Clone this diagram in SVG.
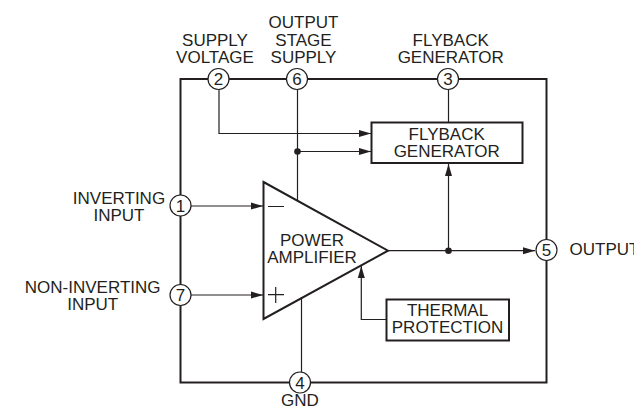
<svg xmlns="http://www.w3.org/2000/svg" width="634" height="409" viewBox="0 0 634 409">
<style>
text{font-family:"Liberation Sans",Arial,sans-serif;font-size:17px;fill:#231f20;text-anchor:middle}
.frame{fill:none;stroke:#231f20;stroke-width:2}
.w{fill:none;stroke:#231f20;stroke-width:1.2}
.box{fill:#fff;stroke:#231f20;stroke-width:2}
.pin{fill:#fff;stroke:#231f20;stroke-width:1.2}
.dot{fill:#231f20}
</style>
<defs><marker id="a" markerUnits="userSpaceOnUse" markerWidth="13" markerHeight="10" refX="12" refY="4" orient="auto"><path d="M0 0.500L12 4L0 7.500Z" fill="#231f20"/></marker></defs>
<g id="connectors">
<rect class="frame" x="180.500" y="79" width="366" height="303.500"/>
<path class="w" d="M219 89V133.500H371" marker-end="url(#a)"/>
<path class="w" d="M297.500 89V201"/>
<path class="w" d="M297.500 151.500H371" marker-end="url(#a)"/>
<path class="w" d="M448.500 89V122"/>
<path class="w" d="M448.500 251V164" marker-end="url(#a)"/>
<path class="w" d="M388 250.700H535" marker-end="url(#a)"/>
<path class="w" d="M191 206H263" marker-end="url(#a)"/>
<path class="w" d="M191 295H263" marker-end="url(#a)"/>
<path class="w" d="M301.500 297V372"/>
<path class="w" d="M386 319.500H361.300V266" marker-end="url(#a)"/>
<circle class="dot" cx="297.500" cy="151.500" r="3.300"/>
<circle class="dot" cx="448.500" cy="250.700" r="3.300"/>
</g>
<g id="amp"><path d="M263.500 182L388 250.700L263.500 319Z" class="box" style="fill:none"/>
<path class="w" d="M268 206.500H284M268 294.700H284M275.700 287V303"/>
<text x="312" y="245.500">POWER</text><text x="312" y="263">AMPLIFIER</text></g>
<g id="flyback"><rect class="box" x="371.500" y="122.500" width="151" height="40.500"/><text x="446.700" y="140">FLYBACK</text><text x="446.700" y="157">GENERATOR</text></g>
<g id="thermal"><rect class="box" x="386.500" y="299.500" width="122.500" height="41"/><text x="447.500" y="316">THERMAL</text><text x="447.500" y="333">PROTECTION</text></g>
<g id="pin2"><circle class="pin" cx="218.500" cy="79" r="10.500"/><text x="218.500" y="85">2</text><text x="215" y="46">SUPPLY</text><text x="215" y="63">VOLTAGE</text></g>
<g id="pin6"><circle class="pin" cx="297" cy="79" r="10.500"/><text x="297" y="85">6</text><text x="303.500" y="28">OUTPUT</text><text x="303.500" y="45.500">STAGE</text><text x="303.500" y="63">SUPPLY</text></g>
<g id="pin3"><circle class="pin" cx="448" cy="79" r="10.500"/><text x="448" y="85">3</text><text x="450.700" y="45.500">FLYBACK</text><text x="450.700" y="63">GENERATOR</text></g>
<g id="pin1"><circle class="pin" cx="180.500" cy="205.500" r="10.500"/><text x="180.500" y="211.500">1</text><text x="119" y="203.500">INVERTING</text><text x="119" y="220.500">INPUT</text></g>
<g id="pin7"><circle class="pin" cx="180.500" cy="295" r="10.500"/><text x="180.500" y="301">7</text><text x="92.700" y="293">NON-INVERTING</text><text x="92.700" y="309.700">INPUT</text></g>
<g id="pin4"><circle class="pin" cx="300" cy="382.500" r="10.500"/><text x="300" y="388.500">4</text><text x="300" y="405.500">GND</text></g>
<g id="pin5"><circle class="pin" cx="546.500" cy="250" r="10.500"/><text x="546.500" y="256">5</text><text x="604.500" y="255">OUTPUT</text></g>
</svg>
